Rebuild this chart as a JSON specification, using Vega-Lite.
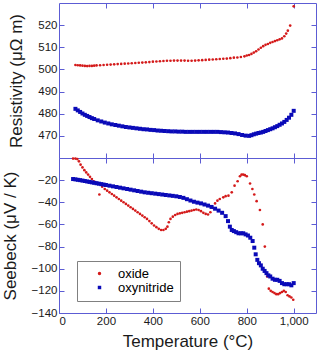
{
  "$schema": "https://vega.github.io/schema/vega-lite/v6.json",
  "padding": {"left": 0, "top": 2, "right": 0, "bottom": 0},
  "spacing": 0,
  "bounds": "flush",
  "datasets": {
    "res": [
      {"T":70,"v":502.0,"s":"oxide"},{"T":80,"v":501.9,"s":"oxide"},{"T":90,"v":501.8,"s":"oxide"},{"T":100,"v":501.7,"s":"oxide"},{"T":110,"v":501.6,"s":"oxide"},{"T":120,"v":501.5,"s":"oxide"},{"T":130,"v":501.6,"s":"oxide"},{"T":140,"v":501.6,"s":"oxide"},{"T":150,"v":501.7,"s":"oxide"},{"T":160,"v":501.8,"s":"oxide"},{"T":175,"v":501.9,"s":"oxide"},{"T":190,"v":502.0,"s":"oxide"},{"T":205,"v":502.1,"s":"oxide"},{"T":220,"v":502.2,"s":"oxide"},{"T":235,"v":502.3,"s":"oxide"},{"T":250,"v":502.4,"s":"oxide"},{"T":265,"v":502.5,"s":"oxide"},{"T":280,"v":502.6,"s":"oxide"},{"T":295,"v":502.7,"s":"oxide"},{"T":310,"v":502.8,"s":"oxide"},{"T":325,"v":502.9,"s":"oxide"},{"T":340,"v":503.0,"s":"oxide"},{"T":355,"v":503.1,"s":"oxide"},{"T":370,"v":503.2,"s":"oxide"},{"T":385,"v":503.3,"s":"oxide"},{"T":400,"v":503.5,"s":"oxide"},{"T":415,"v":503.6,"s":"oxide"},{"T":430,"v":503.7,"s":"oxide"},{"T":445,"v":503.8,"s":"oxide"},{"T":460,"v":503.9,"s":"oxide"},{"T":475,"v":503.9,"s":"oxide"},{"T":490,"v":504.0,"s":"oxide"},{"T":505,"v":504.0,"s":"oxide"},{"T":520,"v":504.0,"s":"oxide"},{"T":535,"v":504.0,"s":"oxide"},{"T":550,"v":503.9,"s":"oxide"},{"T":565,"v":503.9,"s":"oxide"},{"T":580,"v":504.0,"s":"oxide"},{"T":595,"v":504.1,"s":"oxide"},{"T":610,"v":504.2,"s":"oxide"},{"T":625,"v":504.3,"s":"oxide"},{"T":640,"v":504.4,"s":"oxide"},{"T":655,"v":504.5,"s":"oxide"},{"T":670,"v":504.6,"s":"oxide"},{"T":685,"v":504.7,"s":"oxide"},{"T":700,"v":504.8,"s":"oxide"},{"T":715,"v":504.9,"s":"oxide"},{"T":730,"v":505.1,"s":"oxide"},{"T":745,"v":505.3,"s":"oxide"},{"T":760,"v":505.4,"s":"oxide"},{"T":775,"v":505.6,"s":"oxide"},{"T":790,"v":505.9,"s":"oxide"},{"T":800,"v":506.3,"s":"oxide"},{"T":810,"v":506.5,"s":"oxide"},{"T":820,"v":507.0,"s":"oxide"},{"T":830,"v":507.6,"s":"oxide"},{"T":840,"v":508.2,"s":"oxide"},{"T":850,"v":509.0,"s":"oxide"},{"T":860,"v":509.8,"s":"oxide"},{"T":870,"v":510.5,"s":"oxide"},{"T":880,"v":511.1,"s":"oxide"},{"T":890,"v":511.5,"s":"oxide"},{"T":900,"v":512.0,"s":"oxide"},{"T":910,"v":512.4,"s":"oxide"},{"T":920,"v":512.8,"s":"oxide"},{"T":930,"v":513.2,"s":"oxide"},{"T":940,"v":513.6,"s":"oxide"},{"T":950,"v":514.0,"s":"oxide"},{"T":960,"v":515.0,"s":"oxide"},{"T":968,"v":516.2,"s":"oxide"},{"T":975,"v":517.5,"s":"oxide"},{"T":985,"v":519.8,"s":"oxide"},{"T":1000,"v":528.5,"s":"oxide"},
      {"T":70,"v":482.2,"s":"oxynitride"},{"T":80,"v":481.5,"s":"oxynitride"},{"T":90,"v":480.8,"s":"oxynitride"},{"T":100,"v":480.1,"s":"oxynitride"},{"T":110,"v":479.5,"s":"oxynitride"},{"T":120,"v":479.0,"s":"oxynitride"},{"T":130,"v":478.5,"s":"oxynitride"},{"T":140,"v":478.0,"s":"oxynitride"},{"T":150,"v":477.6,"s":"oxynitride"},{"T":165,"v":477.0,"s":"oxynitride"},{"T":180,"v":476.5,"s":"oxynitride"},{"T":195,"v":476.0,"s":"oxynitride"},{"T":210,"v":475.6,"s":"oxynitride"},{"T":225,"v":475.2,"s":"oxynitride"},{"T":240,"v":474.9,"s":"oxynitride"},{"T":255,"v":474.6,"s":"oxynitride"},{"T":270,"v":474.3,"s":"oxynitride"},{"T":285,"v":474.0,"s":"oxynitride"},{"T":300,"v":473.8,"s":"oxynitride"},{"T":315,"v":473.6,"s":"oxynitride"},{"T":330,"v":473.4,"s":"oxynitride"},{"T":345,"v":473.2,"s":"oxynitride"},{"T":360,"v":473.0,"s":"oxynitride"},{"T":375,"v":472.9,"s":"oxynitride"},{"T":390,"v":472.7,"s":"oxynitride"},{"T":405,"v":472.6,"s":"oxynitride"},{"T":420,"v":472.4,"s":"oxynitride"},{"T":435,"v":472.3,"s":"oxynitride"},{"T":450,"v":472.2,"s":"oxynitride"},{"T":465,"v":472.1,"s":"oxynitride"},{"T":480,"v":472.0,"s":"oxynitride"},{"T":495,"v":472.0,"s":"oxynitride"},{"T":510,"v":471.9,"s":"oxynitride"},{"T":525,"v":471.9,"s":"oxynitride"},{"T":540,"v":471.8,"s":"oxynitride"},{"T":555,"v":471.8,"s":"oxynitride"},{"T":570,"v":471.8,"s":"oxynitride"},{"T":585,"v":471.8,"s":"oxynitride"},{"T":600,"v":471.8,"s":"oxynitride"},{"T":615,"v":471.8,"s":"oxynitride"},{"T":630,"v":471.8,"s":"oxynitride"},{"T":645,"v":471.8,"s":"oxynitride"},{"T":660,"v":471.8,"s":"oxynitride"},{"T":675,"v":471.8,"s":"oxynitride"},{"T":690,"v":471.7,"s":"oxynitride"},{"T":705,"v":471.6,"s":"oxynitride"},{"T":720,"v":471.5,"s":"oxynitride"},{"T":735,"v":471.3,"s":"oxynitride"},{"T":750,"v":471.1,"s":"oxynitride"},{"T":765,"v":470.8,"s":"oxynitride"},{"T":780,"v":470.4,"s":"oxynitride"},{"T":795,"v":470.1,"s":"oxynitride"},{"T":810,"v":470.0,"s":"oxynitride"},{"T":820,"v":470.3,"s":"oxynitride"},{"T":830,"v":470.7,"s":"oxynitride"},{"T":840,"v":471.0,"s":"oxynitride"},{"T":850,"v":471.3,"s":"oxynitride"},{"T":860,"v":471.5,"s":"oxynitride"},{"T":870,"v":471.8,"s":"oxynitride"},{"T":880,"v":472.2,"s":"oxynitride"},{"T":890,"v":472.6,"s":"oxynitride"},{"T":900,"v":473.0,"s":"oxynitride"},{"T":910,"v":473.4,"s":"oxynitride"},{"T":920,"v":473.9,"s":"oxynitride"},{"T":930,"v":474.4,"s":"oxynitride"},{"T":940,"v":475.0,"s":"oxynitride"},{"T":950,"v":475.6,"s":"oxynitride"},{"T":960,"v":476.3,"s":"oxynitride"},{"T":970,"v":477.2,"s":"oxynitride"},{"T":980,"v":478.2,"s":"oxynitride"},{"T":990,"v":479.5,"s":"oxynitride"},{"T":1000,"v":481.3,"s":"oxynitride"}
    ],
    "see": [
      {"T":60,"v":-0.5,"s":"oxide"},{"T":70,"v":-0.5,"s":"oxide"},{"T":78,"v":-1,"s":"oxide"},{"T":85,"v":-3,"s":"oxide"},{"T":92,"v":-6,"s":"oxide"},{"T":100,"v":-8.5,"s":"oxide"},{"T":108,"v":-11,"s":"oxide"},{"T":116,"v":-13,"s":"oxide"},{"T":124,"v":-15,"s":"oxide"},{"T":132,"v":-17,"s":"oxide"},{"T":140,"v":-19,"s":"oxide"},{"T":148,"v":-21,"s":"oxide"},{"T":156,"v":-22,"s":"oxide"},{"T":172,"v":-33,"s":"oxide"},{"T":184,"v":-26,"s":"oxide"},{"T":195,"v":-28,"s":"oxide"},{"T":205,"v":-29.5,"s":"oxide"},{"T":215,"v":-31,"s":"oxide"},{"T":225,"v":-32.5,"s":"oxide"},{"T":235,"v":-34,"s":"oxide"},{"T":245,"v":-35.5,"s":"oxide"},{"T":255,"v":-37,"s":"oxide"},{"T":265,"v":-38.5,"s":"oxide"},{"T":275,"v":-40,"s":"oxide"},{"T":285,"v":-41.5,"s":"oxide"},{"T":295,"v":-43,"s":"oxide"},{"T":305,"v":-44.5,"s":"oxide"},{"T":315,"v":-46,"s":"oxide"},{"T":325,"v":-47.5,"s":"oxide"},{"T":335,"v":-49,"s":"oxide"},{"T":345,"v":-50.5,"s":"oxide"},{"T":355,"v":-52,"s":"oxide"},{"T":365,"v":-53.5,"s":"oxide"},{"T":375,"v":-55,"s":"oxide"},{"T":385,"v":-57,"s":"oxide"},{"T":395,"v":-59,"s":"oxide"},{"T":405,"v":-61,"s":"oxide"},{"T":415,"v":-62.5,"s":"oxide"},{"T":425,"v":-64,"s":"oxide"},{"T":435,"v":-65,"s":"oxide"},{"T":445,"v":-65,"s":"oxide"},{"T":455,"v":-64,"s":"oxide"},{"T":462,"v":-62,"s":"oxide"},{"T":468,"v":-58,"s":"oxide"},{"T":475,"v":-55,"s":"oxide"},{"T":485,"v":-53,"s":"oxide"},{"T":495,"v":-51.5,"s":"oxide"},{"T":505,"v":-50.5,"s":"oxide"},{"T":515,"v":-50,"s":"oxide"},{"T":525,"v":-49.5,"s":"oxide"},{"T":535,"v":-49,"s":"oxide"},{"T":545,"v":-48.5,"s":"oxide"},{"T":555,"v":-48,"s":"oxide"},{"T":565,"v":-47.5,"s":"oxide"},{"T":575,"v":-47,"s":"oxide"},{"T":585,"v":-46.5,"s":"oxide"},{"T":595,"v":-47,"s":"oxide"},{"T":605,"v":-48,"s":"oxide"},{"T":615,"v":-49.5,"s":"oxide"},{"T":625,"v":-50.5,"s":"oxide"},{"T":635,"v":-51,"s":"oxide"},{"T":645,"v":-49,"s":"oxide"},{"T":655,"v":-45,"s":"oxide"},{"T":665,"v":-41,"s":"oxide"},{"T":675,"v":-38.5,"s":"oxide"},{"T":685,"v":-37,"s":"oxide"},{"T":700,"v":-35.5,"s":"oxide"},{"T":710,"v":-34.5,"s":"oxide"},{"T":722,"v":-34,"s":"oxide"},{"T":736,"v":-31,"s":"oxide"},{"T":748,"v":-25,"s":"oxide"},{"T":761,"v":-21,"s":"oxide"},{"T":771,"v":-16.5,"s":"oxide"},{"T":778,"v":-15,"s":"oxide"},{"T":785,"v":-15,"s":"oxide"},{"T":792,"v":-15.5,"s":"oxide"},{"T":800,"v":-16.5,"s":"oxide"},{"T":814,"v":-23,"s":"oxide"},{"T":824,"v":-28,"s":"oxide"},{"T":832,"v":-33,"s":"oxide"},{"T":842,"v":-39,"s":"oxide"},{"T":856,"v":-47,"s":"oxide"},{"T":868,"v":-60,"s":"oxide"},{"T":877,"v":-80,"s":"oxide"},{"T":887,"v":-107,"s":"oxide"},{"T":894,"v":-118,"s":"oxide"},{"T":902,"v":-120,"s":"oxide"},{"T":910,"v":-121,"s":"oxide"},{"T":918,"v":-122,"s":"oxide"},{"T":926,"v":-123,"s":"oxide"},{"T":934,"v":-123,"s":"oxide"},{"T":942,"v":-122,"s":"oxide"},{"T":950,"v":-121,"s":"oxide"},{"T":958,"v":-120,"s":"oxide"},{"T":966,"v":-121,"s":"oxide"},{"T":974,"v":-124,"s":"oxide"},{"T":982,"v":-125,"s":"oxide"},{"T":990,"v":-126,"s":"oxide"},{"T":998,"v":-128,"s":"oxide"},
      {"T":60,"v":-19,"s":"oxynitride"},{"T":70,"v":-19.3,"s":"oxynitride"},{"T":80,"v":-19.7,"s":"oxynitride"},{"T":90,"v":-20,"s":"oxynitride"},{"T":100,"v":-20.4,"s":"oxynitride"},{"T":110,"v":-20.8,"s":"oxynitride"},{"T":120,"v":-21.2,"s":"oxynitride"},{"T":130,"v":-21.6,"s":"oxynitride"},{"T":140,"v":-22,"s":"oxynitride"},{"T":150,"v":-22.4,"s":"oxynitride"},{"T":160,"v":-22.8,"s":"oxynitride"},{"T":170,"v":-23.2,"s":"oxynitride"},{"T":180,"v":-23.6,"s":"oxynitride"},{"T":190,"v":-24,"s":"oxynitride"},{"T":200,"v":-24.4,"s":"oxynitride"},{"T":215,"v":-25,"s":"oxynitride"},{"T":230,"v":-25.6,"s":"oxynitride"},{"T":245,"v":-26.2,"s":"oxynitride"},{"T":260,"v":-26.8,"s":"oxynitride"},{"T":275,"v":-27.4,"s":"oxynitride"},{"T":290,"v":-28,"s":"oxynitride"},{"T":305,"v":-28.6,"s":"oxynitride"},{"T":320,"v":-29.2,"s":"oxynitride"},{"T":335,"v":-29.8,"s":"oxynitride"},{"T":350,"v":-30.4,"s":"oxynitride"},{"T":365,"v":-31,"s":"oxynitride"},{"T":380,"v":-31.4,"s":"oxynitride"},{"T":395,"v":-31.8,"s":"oxynitride"},{"T":410,"v":-32.2,"s":"oxynitride"},{"T":425,"v":-32.6,"s":"oxynitride"},{"T":440,"v":-33,"s":"oxynitride"},{"T":455,"v":-33.4,"s":"oxynitride"},{"T":470,"v":-33.8,"s":"oxynitride"},{"T":485,"v":-34.2,"s":"oxynitride"},{"T":500,"v":-34.6,"s":"oxynitride"},{"T":515,"v":-35.2,"s":"oxynitride"},{"T":530,"v":-36,"s":"oxynitride"},{"T":545,"v":-37.2,"s":"oxynitride"},{"T":560,"v":-38.4,"s":"oxynitride"},{"T":575,"v":-39.5,"s":"oxynitride"},{"T":590,"v":-40.3,"s":"oxynitride"},{"T":605,"v":-41,"s":"oxynitride"},{"T":620,"v":-42,"s":"oxynitride"},{"T":635,"v":-43,"s":"oxynitride"},{"T":650,"v":-44.2,"s":"oxynitride"},{"T":665,"v":-45.8,"s":"oxynitride"},{"T":680,"v":-47.5,"s":"oxynitride"},{"T":695,"v":-49.5,"s":"oxynitride"},{"T":710,"v":-52.5,"s":"oxynitride"},{"T":720,"v":-57,"s":"oxynitride"},{"T":728,"v":-62,"s":"oxynitride"},{"T":736,"v":-65,"s":"oxynitride"},{"T":745,"v":-66,"s":"oxynitride"},{"T":755,"v":-67,"s":"oxynitride"},{"T":765,"v":-68,"s":"oxynitride"},{"T":775,"v":-68,"s":"oxynitride"},{"T":785,"v":-68,"s":"oxynitride"},{"T":795,"v":-69,"s":"oxynitride"},{"T":805,"v":-70,"s":"oxynitride"},{"T":815,"v":-72,"s":"oxynitride"},{"T":825,"v":-75,"s":"oxynitride"},{"T":832,"v":-81,"s":"oxynitride"},{"T":838,"v":-87,"s":"oxynitride"},{"T":845,"v":-92,"s":"oxynitride"},{"T":852,"v":-95,"s":"oxynitride"},{"T":860,"v":-97,"s":"oxynitride"},{"T":868,"v":-100,"s":"oxynitride"},{"T":876,"v":-102,"s":"oxynitride"},{"T":884,"v":-104,"s":"oxynitride"},{"T":892,"v":-106,"s":"oxynitride"},{"T":900,"v":-107,"s":"oxynitride"},{"T":910,"v":-109,"s":"oxynitride"},{"T":920,"v":-110,"s":"oxynitride"},{"T":930,"v":-110,"s":"oxynitride"},{"T":940,"v":-111,"s":"oxynitride"},{"T":950,"v":-113,"s":"oxynitride"},{"T":960,"v":-114,"s":"oxynitride"},{"T":970,"v":-114,"s":"oxynitride"},{"T":980,"v":-114,"s":"oxynitride"},{"T":990,"v":-115,"s":"oxynitride"},{"T":1000,"v":-113,"s":"oxynitride"}
    ]
  },
  "resolve": {"legend": {"color": "independent", "shape": "independent"}},
  "vconcat": [
    {
      "width": 257,
      "height": 155,
      "data": {"name": "res"},
      "resolve": {"axis": {"x": "independent", "y": "independent"}},
      "layer": [
        {
          "mark": {"type": "point", "filled": true, "opacity": 1},
          "encoding": {
            "x": {"field": "T", "type": "quantitative", "scale": {"domain": [0, 1095], "nice": false}, "axis": {"labels": false, "title": null, "values": [200, 400, 600, 800, 1000]}},
            "y": {"field": "v", "type": "quantitative", "scale": {"domain": [460, 530], "nice": false, "zero": false}, "axis": {"title": "Resistivity (μΩ m)", "values": [470, 480, 490, 500, 510, 520]}},
            "color": {"field": "s", "type": "nominal", "scale": {"domain": ["oxide", "oxynitride"], "range": ["#d41a1a", "#0a0ab8"]}, "legend": null},
            "shape": {"field": "s", "type": "nominal", "scale": {"domain": ["oxide", "oxynitride"], "range": ["circle", "square"]}, "legend": null},
            "size": {"field": "s", "type": "nominal", "scale": {"domain": ["oxide", "oxynitride"], "range": [7, 16]}, "legend": null}
          }
        },
        {
          "mark": {"type": "point", "opacity": 0},
          "encoding": {
            "x": {"field": "T", "type": "quantitative", "axis": {"orient": "top", "labels": false, "title": null, "values": [200, 400, 600, 800, 1000]}},
            "y": {"field": "v", "type": "quantitative", "axis": {"orient": "right", "labels": false, "title": null, "values": [470, 480, 490, 500, 510, 520]}}
          }
        }
      ]
    },
    {
      "width": 257,
      "height": 155,
      "data": {"name": "see"},
      "resolve": {"axis": {"x": "independent", "y": "independent"}},
      "layer": [
        {
          "mark": {"type": "point", "filled": true, "opacity": 1},
          "encoding": {
            "x": {"field": "T", "type": "quantitative", "scale": {"domain": [0, 1095], "nice": false}, "axis": {"title": "Temperature (°C)", "values": [0, 200, 400, 600, 800, 1000]}},
            "y": {"field": "v", "type": "quantitative", "scale": {"domain": [-140, 0], "nice": false}, "axis": {"title": "Seebeck (μV / K)", "values": [-140, -120, -100, -80, -60, -40, -20]}},
            "color": {"field": "s", "type": "nominal", "scale": {"domain": ["oxide", "oxynitride"], "range": ["#d41a1a", "#0a0ab8"]}, "legend": {"orient": "none", "legendX": 18, "legendY": 103, "title": null}},
            "shape": {"field": "s", "type": "nominal", "scale": {"domain": ["oxide", "oxynitride"], "range": ["circle", "square"]}, "legend": {"orient": "none", "legendX": 18, "legendY": 103, "title": null}},
            "size": {"field": "s", "type": "nominal", "scale": {"domain": ["oxide", "oxynitride"], "range": [8, 16]}, "legend": null}
          }
        },
        {
          "mark": {"type": "point", "opacity": 0},
          "encoding": {
            "x": {"field": "T", "type": "quantitative", "axis": {"orient": "top", "labels": false, "title": null, "values": [200, 400, 600, 800, 1000]}},
            "y": {"field": "v", "type": "quantitative", "axis": {"orient": "right", "labels": false, "title": null, "values": [-120, -100, -80, -60, -40, -20]}}
          }
        }
      ]
    }
  ],
  "config": {
    "font": "Liberation Sans",
    "view": {"stroke": "#5c5cd4", "strokeWidth": 1},
    "axis": {"domain": false, "grid": false, "tickColor": "#5c5cd4", "tickSize": -5, "labelFontSize": 11.5, "labelColor": "#1a1a1a", "titleFontSize": 17, "titleFontWeight": "normal", "titleColor": "#1a1a1a", "minExtent": 0},
    "axisY": {"titlePadding": 12, "labelPadding": 7, "minExtent": 0},
    "axisX": {"titlePadding": 7, "labelPadding": 7, "minExtent": 0},
    "legend": {"symbolSize": 12, "labelFontSize": 13, "strokeColor": "#808080", "fillColor": "#ffffff", "padding": 6, "symbolOffset": 10, "labelOffset": 12, "rowPadding": 0, "symbolStrokeWidth": 0}
  }
}
